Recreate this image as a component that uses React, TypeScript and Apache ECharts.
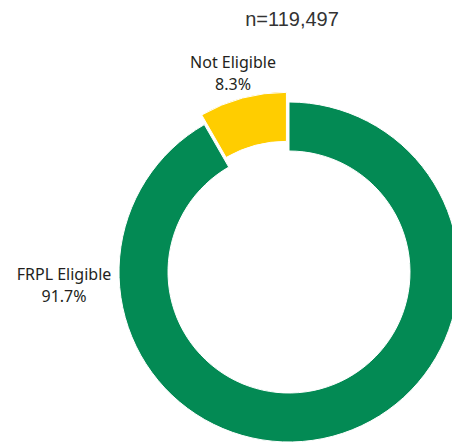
import React, { useEffect, useRef } from "react";
import * as echarts from "echarts";

const categories = ["FRPL Eligible", "Not Eligible"];
const percents = [91.7, 8.3];
const colors = ["#038A54", "#FFCD00"];
const selectedFlags = [false, true];
const sampleLabel = "n=119,497";

export default function App() {
  const ref = useRef<HTMLDivElement>(null);
  useEffect(() => {
    document.body.style.margin = "0";
    const chart = echarts.init(ref.current!, null, { renderer: "svg" });
    const labelSpots = [
      { x: 64, y: 285 },
      { x: 233, y: 73 },
    ];
    chart.setOption({
      animation: false,
      backgroundColor: "#ffffff",
      graphic: [
        {
          type: "text",
          x: 292,
          y: 19,
          style: {
            text: sampleLabel,
            font: '20px "Liberation Sans", Arial, sans-serif',
            fill: "#333333",
            align: "center",
            verticalAlign: "middle",
          },
        },
        ...categories.map((name, i) => ({
          type: "text",
          x: labelSpots[i].x,
          y: labelSpots[i].y,
          style: {
            text: `${name}\n${percents[i]}%`,
            font: '16px "Noto Sans", sans-serif',
            lineHeight: 22,
            fill: "#231F20",
            align: "center",
            verticalAlign: "middle",
          },
        })),
      ],
      series: [
        {
          type: "pie",
          center: [289, 272],
          radius: [121, 170],
          startAngle: 90,
          clockwise: true,
          selectedMode: "single",
          selectedOffset: 10,
          emphasis: { disabled: true },
          itemStyle: { borderColor: "#ffffff", borderWidth: 1 },
          label: { show: false },
          labelLine: { show: false },
          data: categories.map((name, i) => ({
            name,
            value: percents[i],
            selected: selectedFlags[i],
            itemStyle: { color: colors[i] },
            select: { itemStyle: { color: colors[i] } },
          })),
        },
      ],
    });
    return () => chart.dispose();
  }, []);
  return <div ref={ref} style={{ width: 452, height: 443 }} />;
}
